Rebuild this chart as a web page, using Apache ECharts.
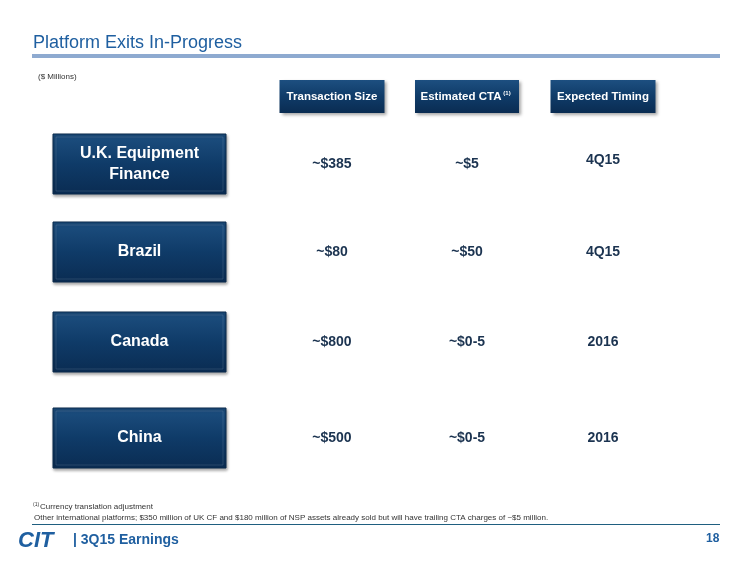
<!DOCTYPE html>
<html><head><meta charset="utf-8">
<script src="https://cdn.jsdelivr.net/npm/echarts@6/dist/echarts.min.js"></script>
<style>html,body{margin:0;padding:0;background:#fff}#c{width:750px;height:563px}</style>
</head><body><div id="c"></div>
<script>
const headers = ['Transaction Size', 'Estimated CTA', 'Expected Timing'];
const categories = ['U.K. Equipment\nFinance', 'Brazil', 'Canada', 'China'];
const transactionSize = ['~$385', '~$80', '~$800', '~$500'];
const estimatedCTA = ['~$5', '~$50', '~$0-5', '~$0-5'];
const expectedTiming = ['4Q15', '4Q15', '2016', '2016'];

const colX = [332, 467, 603];
const headerW = [105, 104, 105];
const rowY = [164, 252, 342, 438];
const F = 'Arial, "Liberation Sans", sans-serif';
const boxFill = {type:'linear',x:0,y:0,x2:0,y2:1,colorStops:[{offset:0,color:'#1d4f80'},{offset:0.5,color:'#0f3b68'},{offset:1,color:'#0a2c52'}]};
const g = [];
g.push({type:'text',left:33,top:34,style:{text:'Platform Exits In-Progress',font:'18px '+F,fill:'#1f5fa0'}});
g.push({type:'rect',shape:{x:32,y:54,width:688,height:4},style:{fill:'#8eaad0'}});
g.push({type:'text',left:38,top:73,style:{text:'($ Millions)',font:'8px '+F,fill:'#333'}});
headers.forEach((h,i)=>{
  g.push({type:'rect',shape:{x:colX[i]-headerW[i]/2,y:80,width:headerW[i],height:33},style:{fill:boxFill,shadowBlur:3,shadowColor:'rgba(0,0,0,0.35)',shadowOffsetX:2,shadowOffsetY:2}});
  g.push({type:'text',x:colX[i]+(i===1?-6:0),y:97,style:{text:h,font:'bold 11.5px '+F,fill:'#fff',align:'center',verticalAlign:'middle'}});
  if(i===1) g.push({type:'text',x:colX[i]+40,y:93,style:{text:'(1)',font:'bold 6px '+F,fill:'#fff',align:'center',verticalAlign:'middle'}});
});
categories.forEach((c,r)=>{
  g.push({type:'rect',shape:{x:53,y:rowY[r]-30,width:173,height:60},style:{fill:boxFill,stroke:'#0a2a4c',lineWidth:1,shadowBlur:3,shadowColor:'rgba(0,0,0,0.35)',shadowOffsetX:1,shadowOffsetY:2}});
  g.push({type:'rect',shape:{x:56,y:rowY[r]-27,width:167,height:54},style:{fill:'none',stroke:'rgba(255,255,255,0.12)',lineWidth:1}});
  g.push({type:'text',x:139.5,y:rowY[r],style:{text:c,font:'bold 16px '+F,fill:'#fff',align:'center',verticalAlign:'middle',lineHeight:21}});
  [transactionSize,estimatedCTA,expectedTiming].forEach((arr,i)=>{
    g.push({type:'text',x:colX[i],y:rowY[r]+(r===0&&i===2?-4:0),style:{text:arr[r],font:'bold 14px '+F,fill:'#1b3350',align:'center',verticalAlign:'middle'}});
  });
});
g.push({type:'text',left:33,top:502,style:{text:'(1)',font:'5px '+F,fill:'#333'}});
g.push({type:'text',left:40,top:503,style:{text:'Currency translation adjustment',font:'8px '+F,fill:'#333'}});
g.push({type:'text',left:34,top:514,style:{text:'Other international platforms; $350 million of UK CF and $180 million of NSP assets already sold but will have trailing CTA charges of ~$5 million.',font:'8px '+F,fill:'#333'}});
g.push({type:'rect',shape:{x:32,y:524,width:688,height:1},style:{fill:'#1f5f80'}});
g.push({type:'text',left:18,top:530,style:{text:'CIT',font:'bold italic 22px '+F,fill:'#1f5fa0'}});
g.push({type:'text',left:73,top:533,style:{text:'| 3Q15 Earnings',font:'bold 14px '+F,fill:'#1f5fa0'}});
g.push({type:'text',left:706,top:533,style:{text:'18',font:'bold 12px '+F,fill:'#1f5fa0'}});
const chart = echarts.init(document.getElementById('c'));
chart.setOption({animation:false,graphic:g});
</script></body></html>
